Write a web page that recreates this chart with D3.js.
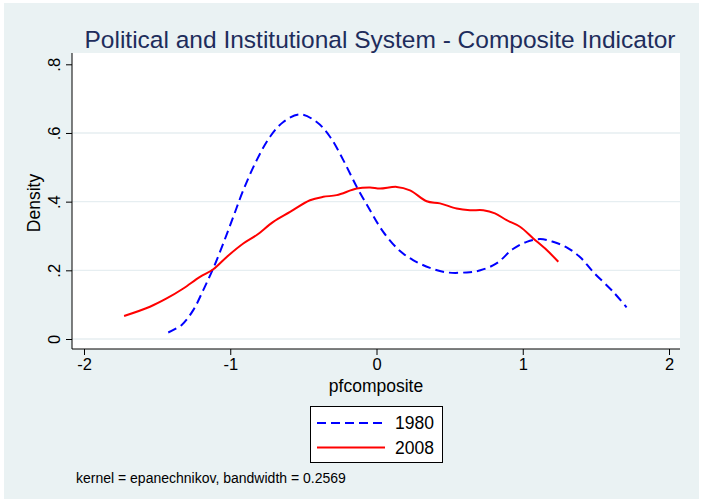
<!DOCTYPE html>
<html><head><meta charset="utf-8">
<script src="https://cdn.jsdelivr.net/npm/d3@7"></script>
<style>body{margin:0;background:#fff}svg{display:block}text{font-family:"Liberation Sans",Arial,sans-serif}</style>
</head><body><svg id="c" width="702" height="502"></svg>
<script>
const title = "Political and Institutional System - Composite Indicator";
const xTicks = [-2, -1, 0, 1, 2];
const yTicks = [0, 0.2, 0.4, 0.6, 0.8];
const yTickLabels = ["0", ".2", ".4", ".6", ".8"];
const seriesNames = ["1980", "2008"];
const x1980 = [-1.424,-1.332,-1.253,-1.184,-1.116,-1.048,-0.979,-0.911,-0.819,-0.728,-0.637,-0.523,-0.409,-0.318,-0.227,-0.135,-0.044,0.046,0.161,0.25,0.366,0.48,0.617,0.71,0.82,0.933,1.027,1.118,1.207,1.30,1.393,1.48,1.617,1.71];
const y1980 = [0.019,0.041,0.084,0.143,0.206,0.278,0.356,0.433,0.521,0.589,0.632,0.654,0.632,0.589,0.521,0.443,0.375,0.312,0.256,0.23,0.207,0.194,0.194,0.2,0.22,0.262,0.283,0.291,0.283,0.267,0.238,0.196,0.138,0.092];
const x2008 = [-1.726,-1.549,-1.435,-1.321,-1.207,-1.116,-1.024,-0.911,-0.819,-0.706,-0.591,-0.455,-0.364,-0.272,-0.135,-0.044,0.024,0.138,0.229,0.343,0.434,0.548,0.639,0.730,0.810,0.890,0.981,1.072,1.164,1.243];
const y2008 = [0.067,0.094,0.118,0.147,0.181,0.203,0.239,0.278,0.303,0.341,0.370,0.404,0.414,0.419,0.438,0.441,0.438,0.443,0.433,0.401,0.395,0.380,0.375,0.375,0.366,0.346,0.327,0.293,0.259,0.225];
const note = "kernel = epanechnikov, bandwidth = 0.2569";

const svg = d3.select("#c");
svg.append("rect").attr("x",4).attr("y",3).attr("width",695).attr("height",496).attr("fill","#EAF2F3");
const P = {l:72, t:53, r:680, b:349};
svg.append("rect").attr("x",P.l).attr("y",P.t).attr("width",P.r-P.l).attr("height",P.b-P.t).attr("fill","#fff");

const x = d3.scaleLinear().domain([-2,2]).range([84,669]);
const y = d3.scaleLinear().domain([0,0.8]).range([339,64.3]);

// grid
svg.append("g").selectAll("line").data(yTicks.filter(d=>d<0.8)).join("line")
  .attr("x1",P.l).attr("x2",P.r).attr("y1",d=>y(d)).attr("y2",d=>y(d))
  .attr("stroke","#E6EEF1").attr("stroke-width",1.3);

// y axis
const ya = svg.append("g").attr("transform",`translate(${P.l},0)`)
  .call(d3.axisLeft(y).tickValues(yTicks).tickSize(6).tickFormat((d,i)=>yTickLabels[i]));
ya.attr("font-family",null);
ya.select(".domain").attr("d",`M0,${P.t}V${P.b}`).attr("stroke","#000");
ya.selectAll(".tick line").attr("stroke","#000");
ya.selectAll(".tick text").attr("font-size",16.5).attr("fill","#000").attr("x",0).attr("y",0).attr("dy",0)
  .attr("text-anchor","middle")
  .attr("transform","translate(-12,0) rotate(-90)");

// x axis
const xa = svg.append("g").attr("transform",`translate(0,${P.b})`)
  .call(d3.axisBottom(x).tickValues(xTicks).tickSize(6).tickFormat(d=>String(d)));
xa.attr("font-family",null);
xa.select(".domain").attr("d",`M${P.l},0H${P.r}`).attr("stroke","#000");
xa.selectAll(".tick line").attr("stroke","#000");
xa.selectAll(".tick text").attr("font-size",16.5).attr("fill","#000").attr("y",9).attr("dy","0.71em");

// labels
svg.append("text").attr("x",376).attr("y",392).attr("text-anchor","middle").attr("font-size",17.5).text("pfcomposite");
svg.append("text").attr("transform","translate(40,203) rotate(-90)").attr("text-anchor","middle").attr("font-size",17.5).text("Density");
svg.append("text").attr("x",380).attr("y",48).attr("text-anchor","middle").attr("font-size",24.5).attr("fill","#1E2D5C").text(title);
svg.append("text").attr("x",76).attr("y",483).attr("font-size",14).text(note);

// lines
const line = d3.line().x(d=>x(d[0])).y(d=>y(d[1])).curve(d3.curveCatmullRom);
const d1980 = x1980.map((v,i)=>[v,y1980[i]]);
const d2008 = x2008.map((v,i)=>[v,y2008[i]]);
svg.append("path").datum(d1980).attr("d",line).attr("fill","none").attr("stroke","#0000FF").attr("stroke-width",2).attr("stroke-dasharray","9,5");
svg.append("path").datum(d2008).attr("d",line).attr("fill","none").attr("stroke","#FF0000").attr("stroke-width",2);

// legend
const lg = svg.append("g");
lg.append("rect").attr("x",310.5).attr("y",406.5).attr("width",132).attr("height",56).attr("fill","#fff").attr("stroke","#000").attr("stroke-width",1);
const cols = ["#0000FF","#FF0000"], dash = ["9,5",null];
seriesNames.forEach((s,i)=>{
  const yy = 423 + i*24.5;
  lg.append("line").attr("x1",317).attr("x2",385).attr("y1",yy).attr("y2",yy).attr("stroke",cols[i]).attr("stroke-width",2).attr("stroke-dasharray",dash[i]);
  lg.append("text").attr("x",395).attr("y",yy+6).attr("font-size",17.5).text(s);
});
</script></body></html>
